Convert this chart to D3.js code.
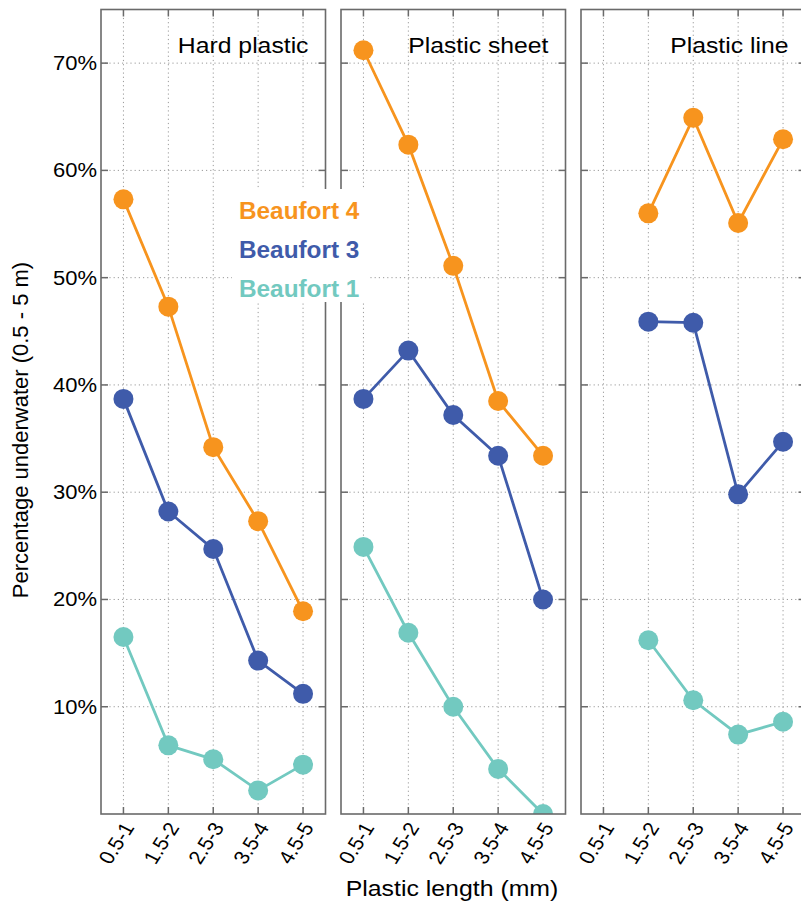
<!DOCTYPE html>
<html>
<head>
<meta charset="utf-8">
<script src="https://cdn.jsdelivr.net/npm/d3@7"></script>
<style>
  html, body { margin: 0; padding: 0; background: #fff; }
  svg { display: block; font-family: "Liberation Sans", Arial, sans-serif; }
</style>
</head>
<body>
<svg id="chart" width="801" height="909"></svg>
<script>
// Size classes along the x axis
const categories = ["0.5-1", "1.5-2", "2.5-3", "3.5-4", "4.5-5"];
// Plastic types, one panel each
const panelNames = ["Hard plastic", "Plastic sheet", "Plastic line"];
// Percentage of items found underwater (0.5 - 5 m), per panel
const beaufort4 = [
  [57.3, 47.3, 34.2, 27.3, 18.9],
  [71.2, 62.4, 51.1, 38.5, 33.4],
  [null, 56.0, 64.9, 55.1, 62.9]
];
const beaufort3 = [
  [38.7, 28.2, 24.7, 14.3, 11.2],
  [38.7, 43.2, 37.2, 33.4, 20.0],
  [null, 45.9, 45.8, 29.8, 34.7]
];
const beaufort1 = [
  [16.5, 6.4, 5.1, 2.2, 4.6],
  [24.9, 16.9, 10.0, 4.2, 0.0],
  [null, 16.2, 10.6, 7.4, 8.6]
];
const yTicks = [10, 20, 30, 40, 50, 60, 70];
const seriesNames = ["Beaufort 4", "Beaufort 3", "Beaufort 1"];
const seriesColors = ["#F7941E", "#3F5BAA", "#72C9C0"];
const seriesData = [beaufort4, beaufort3, beaufort1];

const svg = d3.select("#chart");

const plotLeft = 101, plotTop = 9.5, plotBottom = 814;
const panelW = 224.5, gap = 15.5;
const frameColor = "#6a6a6a";
const gridColor = "#9a9a9a";
const tickLen = 7;
// the typeface is set slightly wide
const wide = 1.11;

const y = d3.scaleLinear().domain([0, 75]).range([plotBottom, plotTop]);

const defs = svg.append("defs");

panelNames.forEach((name, p) => {
  const x0 = plotLeft + p * (panelW + gap);
  const x = d3.scalePoint().domain(categories).range([x0, x0 + panelW]).padding(0.5);
  const g = svg.append("g").attr("class", "panel");

  defs.append("clipPath").attr("id", "clip" + p)
    .append("rect")
    .attr("x", x0).attr("y", plotTop)
    .attr("width", panelW).attr("height", plotBottom - plotTop);

  // dotted grid
  g.append("g").selectAll("line").data(categories).join("line")
    .attr("x1", d => x(d)).attr("x2", d => x(d))
    .attr("y1", plotTop).attr("y2", plotBottom)
    .attr("stroke", gridColor).attr("stroke-width", 1)
    .attr("stroke-dasharray", "1.2,3");
  g.append("g").selectAll("line").data(yTicks).join("line")
    .attr("x1", x0).attr("x2", x0 + panelW)
    .attr("y1", d => y(d)).attr("y2", d => y(d))
    .attr("stroke", gridColor).attr("stroke-width", 1)
    .attr("stroke-dasharray", "1.2,3");

  // inward ticks on all four sides
  const ticks = g.append("g").attr("stroke", frameColor).attr("stroke-width", 1.5);
  yTicks.forEach(v => {
    ticks.append("line").attr("x1", x0).attr("x2", x0 + tickLen).attr("y1", y(v)).attr("y2", y(v));
    ticks.append("line").attr("x1", x0 + panelW).attr("x2", x0 + panelW - tickLen).attr("y1", y(v)).attr("y2", y(v));
  });
  categories.forEach(c => {
    ticks.append("line").attr("x1", x(c)).attr("x2", x(c)).attr("y1", plotTop).attr("y2", plotTop + tickLen);
    ticks.append("line").attr("x1", x(c)).attr("x2", x(c)).attr("y1", plotBottom).attr("y2", plotBottom - tickLen);
  });

  // series lines and markers
  const plot = g.append("g").attr("clip-path", `url(#clip${p})`);
  seriesData.forEach((sd, s) => {
    const pts = categories.map((c, i) => ({ c, v: sd[p][i] })).filter(d => d.v !== null);
    const line = d3.line().x(d => x(d.c)).y(d => y(d.v));
    plot.append("path").datum(pts)
      .attr("d", line)
      .attr("fill", "none")
      .attr("stroke", seriesColors[s])
      .attr("stroke-width", 2.8);
    plot.append("g").selectAll("circle").data(pts).join("circle")
      .attr("cx", d => x(d.c)).attr("cy", d => y(d.v))
      .attr("r", 10)
      .attr("fill", seriesColors[s]);
  });

  // frame
  g.append("rect")
    .attr("x", x0).attr("y", plotTop)
    .attr("width", panelW).attr("height", plotBottom - plotTop)
    .attr("fill", "none").attr("stroke", frameColor).attr("stroke-width", 1.6);

  // panel title
  g.append("text")
    .attr("transform", `translate(${x0 + panelW - 17},53) scale(${wide},1)`)
    .attr("text-anchor", "end")
    .attr("font-size", 22.3)
    .attr("fill", "#000")
    .text(name);

  // rotated x tick labels
  g.append("g").selectAll("text").data(categories).join("text")
    .attr("transform", d => `translate(${x(d) + 5},${plotBottom + 10}) scale(${wide},1) rotate(-60)`)
    .attr("text-anchor", "end")
    .attr("dy", "0.35em")
    .attr("font-size", 19.3)
    .attr("fill", "#000")
    .text(d => d);

  // y tick labels only on the first panel
  if (p === 0) {
    g.append("g").selectAll("text").data(yTicks).join("text")
      .attr("transform", d => `translate(${x0 - 4},${y(d)}) scale(${wide + 0.03},1)`)
      .attr("dy", "0.36em")
      .attr("text-anchor", "end")
      .attr("font-size", 19.3)
      .attr("fill", "#000")
      .text(d => d + "%");
  }
});

// legend on a white box
const legend = svg.append("g");
legend.append("rect")
  .attr("x", 232).attr("y", 189)
  .attr("width", 138).attr("height", 113)
  .attr("fill", "#fff");
legend.selectAll("text").data(seriesNames).join("text")
  .attr("transform", (d, i) => `translate(239,${219 + i * 39}) scale(1.05,1)`)
  .attr("font-size", 23.2)
  .attr("font-weight", "bold")
  .attr("fill", (d, i) => seriesColors[i])
  .text(d => d);

// axis titles
svg.append("text")
  .attr("transform", "translate(28,430) rotate(-90)")
  .attr("text-anchor", "middle")
  .attr("font-size", 22)
  .attr("fill", "#000")
  .text("Percentage underwater (0.5 - 5 m)");

svg.append("text")
  .attr("transform", `translate(452,896) scale(${wide},1)`)
  .attr("text-anchor", "middle")
  .attr("font-size", 22.4)
  .attr("fill", "#000")
  .text("Plastic length (mm)");
</script>
</body>
</html>
